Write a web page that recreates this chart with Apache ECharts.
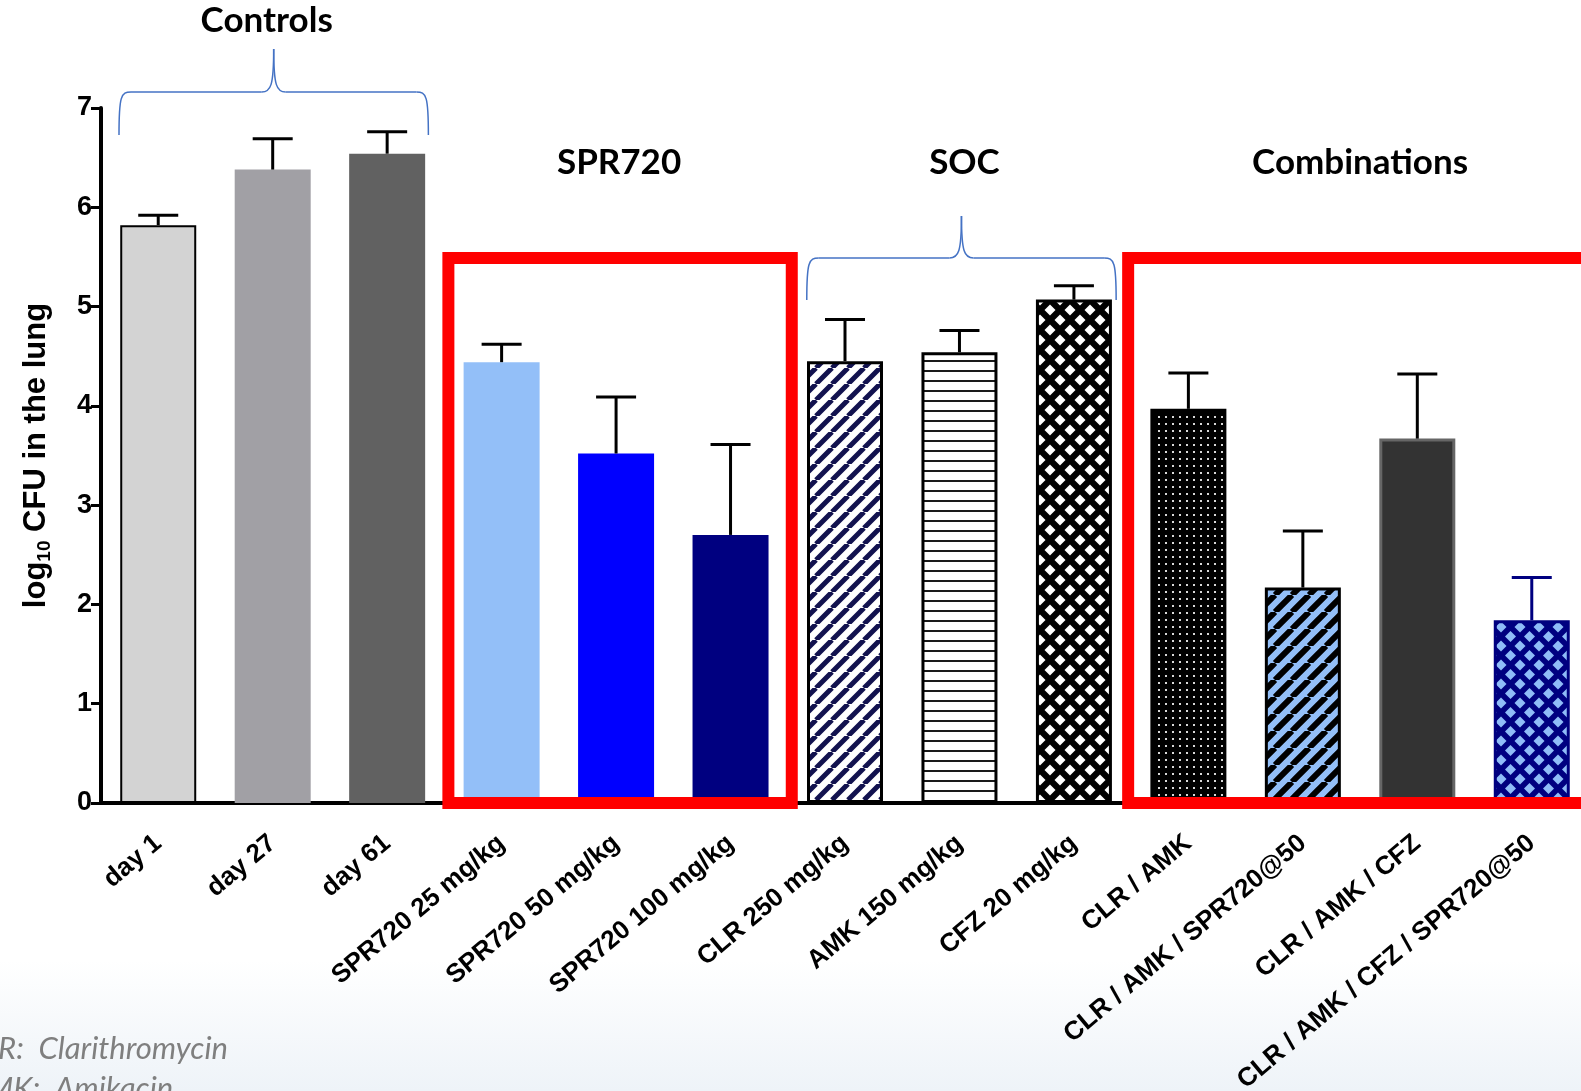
<!DOCTYPE html>
<html>
<head>
<meta charset="utf-8">
<title>log10 CFU in the lung</title>
<script src="https://cdn.jsdelivr.net/npm/echarts@6/dist/echarts.min.js"></script>
<style>
    html, body {
        margin: 0;
        padding: 0;
        background: linear-gradient(to bottom, #ffffff 0%, #ffffff 88%, #eef3f8 100%);
    }
    #chart {
        width: 1581px;
        height: 1091px;
    }
</style>
</head>
<body>
<div id="chart"></div>
<script>
// categories and values (log10 CFU, mean + upper error)
const categories = [
    "day 1", "day 27", "day 61",
    "SPR720 25 mg/kg", "SPR720 50 mg/kg", "SPR720 100 mg/kg",
    "CLR 250 mg/kg", "AMK 150 mg/kg", "CFZ 20 mg/kg",
    "CLR / AMK", "CLR / AMK / SPR720@50", "CLR / AMK / CFZ", "CLR / AMK / CFZ / SPR720@50"
];
const means = [5.82, 6.38, 6.54, 4.44, 3.52, 2.70, 4.45, 4.54, 5.07, 3.97, 2.17, 3.67, 1.84];
const errors = [0.10, 0.31, 0.22, 0.18, 0.57, 0.91, 0.42, 0.22, 0.14, 0.36, 0.57, 0.65, 0.43];
const yTicks = [0, 1, 2, 3, 4, 5, 6, 7];
const groupTitles = ["Controls", "SPR720", "SOC", "Combinations"];
const footnotes = ["CLR:  Clarithromycin", "AMK:  Amikacin"];

// small canvas tiles for the hatched bars
function makeTile(w, h, draw) {
    const c = document.createElement("canvas");
    c.width = w;
    c.height = h;
    draw(c.getContext("2d"), w, h);
    return { image: c, repeat: "repeat" };
}

function stripes(bg, fg, p, lw) {
    return makeTile(p, p, (ctx) => {
        ctx.fillStyle = bg;
        ctx.fillRect(0, 0, p, p);
        ctx.strokeStyle = fg;
        ctx.lineWidth = lw;
        ctx.beginPath();
        for (let k = -1; k <= 1; k++) {
            ctx.moveTo(k * p, p);
            ctx.lineTo(k * p + p, 0);
        }
        ctx.stroke();
    });
}

function hlines(bg, fg, p, lw) {
    return makeTile(8, p, (ctx) => {
        ctx.fillStyle = bg;
        ctx.fillRect(0, 0, 8, p);
        ctx.fillStyle = fg;
        ctx.fillRect(0, 0, 8, lw);
    });
}

function diamonds(bg, fg, p, r) {
    return makeTile(p, p, (ctx) => {
        ctx.fillStyle = bg;
        ctx.fillRect(0, 0, p, p);
        ctx.fillStyle = fg;
        const pts = [[p / 2, p / 2], [0, 0], [p, 0], [0, p], [p, p]];
        pts.forEach(([cx, cy]) => {
            ctx.beginPath();
            ctx.moveTo(cx, cy - r);
            ctx.lineTo(cx + r, cy);
            ctx.lineTo(cx, cy + r);
            ctx.lineTo(cx - r, cy);
            ctx.closePath();
            ctx.fill();
        });
    });
}

function dots(bg, fg, p, s) {
    return makeTile(p, p, (ctx) => {
        ctx.fillStyle = bg;
        ctx.fillRect(0, 0, p, p);
        ctx.fillStyle = fg;
        ctx.fillRect(Math.floor(p / 2), Math.floor(p / 2), s, s);
    });
}

const barStyles = [
    { color: "#d3d3d3", borderColor: "#000", borderWidth: 2 },
    { color: "#a1a0a5", borderWidth: 0 },
    { color: "#616161", borderWidth: 0 },
    { color: "#93bff8", borderWidth: 0 },
    { color: "#0000ff", borderWidth: 0 },
    { color: "#000080", borderWidth: 0 },
    { color: stripes("#ffffff", "#12124f", 16, 5), borderColor: "#000", borderWidth: 3 },
    { color: hlines("#ffffff", "#1a1a1a", 10, 2), borderColor: "#000", borderWidth: 3 },
    { color: diamonds("#000000", "#ffffff", 20, 5.5), borderColor: "#000", borderWidth: 3 },
    { color: dots("#000000", "#d8d8d8", 7, 2), borderColor: "#000", borderWidth: 3 },
    { color: stripes("#93bff8", "#000000", 17, 6), borderColor: "#000", borderWidth: 3 },
    { color: "#333333", borderColor: "#666666", borderWidth: 3 },
    { color: diamonds("#000080", "#8fbcf8", 19, 5.5), borderColor: "#000080", borderWidth: 3 }
];
const errColors = ["#000", "#000", "#000", "#000", "#000", "#000", "#000", "#000", "#000", "#000", "#000", "#000", "#000080"];

const chart = echarts.init(document.getElementById("chart"), null, { renderer: "canvas" });

const axisFont = "'Liberation Sans', Arial, sans-serif";

const option = {
    animation: false,
    grid: { left: 101, top: 108, height: 695, width: 1488, containLabel: false, outerBoundsMode: "none" },
    xAxis: {
        type: "category",
        data: categories,
        axisLine: { lineStyle: { color: "#000", width: 4 } },
        axisTick: { alignWithLabel: true, length: 10, lineStyle: { color: "#000", width: 3 } },
        axisLabel: {
            interval: 0,
            rotate: 40,
            margin: 37,
            color: "#000",
            fontFamily: axisFont,
            fontWeight: "bold",
            fontSize: 26
        }
    },
    yAxis: {
        type: "value",
        min: 0,
        max: 7,
        interval: 1,
        splitLine: { show: false },
        axisLine: { show: true, lineStyle: { color: "#000", width: 4 } },
        axisTick: { show: true, length: 10, lineStyle: { color: "#000", width: 3 } },
        axisLabel: {
            margin: 9,
            color: "#000",
            fontFamily: axisFont,
            fontWeight: "bold",
            fontSize: 27,
            formatter: (v) => (yTicks.includes(v) ? String(v) : "")
        },
        name: "{a|log}{s|10}{a| CFU in the lung}",
        nameLocation: "middle",
        nameRotate: 90,
        nameGap: 47,
        nameTextStyle: {
            rich: {
                a: { fontFamily: axisFont, fontWeight: "bold", fontSize: 31, color: "#000", lineHeight: 36 },
                s: { fontFamily: axisFont, fontWeight: "bold", fontSize: 19, color: "#000", lineHeight: 36, verticalAlign: "bottom", padding: [10, 0, 0, 0] }
            }
        }
    },
    series: [
        {
            type: "bar",
            barWidth: 76,
            data: means.map((v, i) => ({ value: v, itemStyle: barStyles[i] })),
            z: 2
        },
        {
            type: "custom",
            z: 3,
            data: means.map((v, i) => [i, v, v + errors[i]]),
            renderItem: (params, api) => {
                const i = api.value(0);
                const base = api.coord([i, api.value(1)]);
                const top = api.coord([i, api.value(2)]);
                const style = { stroke: errColors[i], lineWidth: 3 };
                return {
                    type: "group",
                    children: [
                        { type: "line", shape: { x1: base[0], y1: base[1], x2: top[0], y2: top[1] }, style: style },
                        { type: "line", shape: { x1: top[0] - 20, y1: top[1], x2: top[0] + 20, y2: top[1] }, style: style }
                    ]
                };
            }
        }
    ]
};

chart.setOption(option);

// annotations placed from the axes
const px = (i) => chart.convertToPixel({ xAxisIndex: 0 }, i);
const py = (v) => chart.convertToPixel({ yAxisIndex: 0 }, v);
const bandW = px(1) - px(0);
const bandStart = (i) => px(i) - bandW / 2;

const braceStyle = { fill: "none", stroke: "#4472c4", lineWidth: 1.5 };

function brace(x0, x1, yLine, yEnd, yPeak) {
    const m = (x0 + x1) / 2;
    const curve = (a, b, c1, c2) => ({
        type: "bezierCurve",
        z: 20,
        shape: { x1: a[0], y1: a[1], x2: b[0], y2: b[1], cpx1: c1[0], cpy1: c1[1], cpx2: c2[0], cpy2: c2[1] },
        style: braceStyle
    });
    const line = (a, b) => ({
        type: "line",
        z: 20,
        shape: { x1: a[0], y1: a[1], x2: b[0], y2: b[1] },
        style: braceStyle
    });
    return [
        curve([x0, yEnd], [x0 + 12, yLine], [x0, yLine + 4], [x0 + 2, yLine]),
        line([x0 + 12, yLine], [m - 12, yLine]),
        curve([m - 12, yLine], [m, yPeak], [m - 3, yLine], [m, yLine - 6]),
        curve([m, yPeak], [m + 12, yLine], [m, yLine - 6], [m + 3, yLine]),
        line([m + 12, yLine], [x1 - 12, yLine]),
        curve([x1 - 12, yLine], [x1, yEnd], [x1 - 2, yLine], [x1, yLine + 4])
    ];
}

const y0 = py(0);
const boxTop = y0 - 545;
const titleFont = "Lato, 'Open Sans', sans-serif";

let graphics = [
    {
        type: "rect",
        z: 20,
        shape: { x: bandStart(3) + 4, y: boxTop, width: bandStart(6) - bandStart(3), height: y0 - boxTop },
        style: { fill: "none", stroke: "#ff0000", lineWidth: 12 }
    },
    {
        type: "rect",
        z: 20,
        shape: { x: bandStart(9) - 3, y: boxTop, width: bandStart(13) - bandStart(9) + 20, height: y0 - boxTop },
        style: { fill: "none", stroke: "#ff0000", lineWidth: 12 }
    }
];
graphics = graphics.concat(brace(bandStart(0) + 18, bandStart(3) - 16, py(7) - 16, py(7) + 27, py(7) - 59));
graphics = graphics.concat(brace(bandStart(6) + 19, bandStart(9) - 15, boxTop, boxTop + 42, boxTop - 42));

const titlePos = [
    [px(1) - 6, 21],
    [px(4) + 3, 163],
    [px(7) + 5, 163],
    [(px(10) + px(11)) / 2, 163]
];
groupTitles.forEach((t, k) => {
    graphics.push({
        type: "text",
        z: 20,
        x: titlePos[k][0],
        y: titlePos[k][1],
        style: {
            text: t,
            font: "bold 35px " + titleFont,
            fill: "#000",
            align: "center",
            verticalAlign: "middle"
        }
    });
});

footnotes.forEach((t, k) => {
    graphics.push({
        type: "text",
        z: 20,
        x: k === 0 ? -36 : -33,
        y: 1049 + k * 40,
        style: {
            text: t,
            font: "italic 31px " + titleFont,
            fill: "#7f7f7f",
            align: "left",
            verticalAlign: "middle"
        }
    });
});

chart.setOption({ graphic: graphics });
</script>
</body>
</html>
